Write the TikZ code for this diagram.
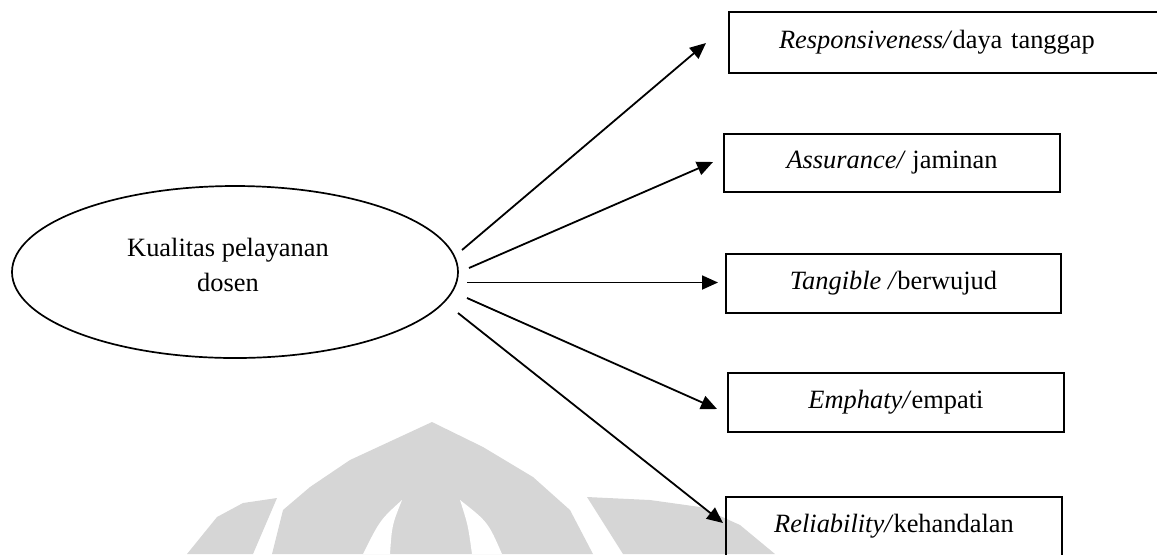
\documentclass[tikz,border=0pt]{standalone}
\usepackage{fontspec}
\setmainfont{Liberation Serif}
\usetikzlibrary{arrows.meta,shapes.geometric}

\begin{document}
\begin{tikzpicture}[x=0.5pt,y=-0.5pt,
  every node/.style={font=\fontsize{13.2pt}{17.5pt}\selectfont},
  dimbox/.style={draw, line width=1pt, inner sep=0pt, align=center},
  link/.style={line width=0.9pt, -{Triangle[length=8pt,width=7pt]}},
  emblem/.style={fill=black!16, draw=none}]
\useasboundingbox (0,0) rectangle (1157,554);
\clip (0,0) rectangle (1157,554);

% faint emblem in the background
\fill[emblem] (272,554) -- (283,510) -- (310,487) -- (350,460) -- (432,422)
  -- (483,447) -- (533,477) -- (570,510) -- (593,554) -- cycle;
\fill[white] (363,554) .. controls (380,520) .. (402,500) .. controls (392,525) .. (390,554) -- cycle;
\fill[white] (472,554) .. controls (468,525) .. (460,500) .. controls (488,522) .. (502,554) -- cycle;
\fill[emblem] (187,554) -- (217,517) -- (243,503) -- (277,498) -- (253,554) -- cycle;
\fill[emblem] (623,554) -- (587,497) -- (650,500) -- (700,507) -- (740,525) -- (775,554) -- cycle;

% central concept
\node[ellipse, draw, line width=0.85pt, minimum width=223pt, minimum height=86pt] (core) at (235,272) {};
\node[align=center] (coretext) at (228,265) {Kualitas pelayanan\\dosen};

% dimensions
\node[draw, line width=1pt, inner ysep=0pt, inner xsep=25pt, text width=170.5pt,
      align=left, minimum height=30.5pt] (d1) at (949.5,42.5)
      {\textit{Responsiveness/}daya tanggap};
\node[dimbox, minimum width=168pt, minimum height=29pt] (d2) at (892,163)
      {\textit{Assurance/} jaminan};
\node[dimbox, minimum width=167.5pt, minimum height=29.5pt] (d3) at (893.5,283.5)
      {\textit{Tangible /}berwujud};
\node[dimbox, minimum width=168pt, minimum height=29.5pt] (d4) at (896,402.5)
      {\textit{Emphaty/}empati};
\node[dimbox, minimum width=168pt, minimum height=29.5pt] (d5) at (894,526.5)
      {\textit{Reliability/}kehandalan};

% arrow end points
\coordinate (s1) at (462,250); \coordinate (e1) at (706,43);
\coordinate (s2) at (469,268); \coordinate (e2) at (713,162);
\coordinate (s3) at (467,282.5); \coordinate (e3) at (718,282.5);
\coordinate (s4) at (467,298); \coordinate (e4) at (717,409);
\coordinate (s5) at (458,313); \coordinate (e5) at (723,523);

\draw[link] (s1) -- (e1);
\draw[link] (s2) -- (e2);
\draw[link] (s3) -- (e3);
\draw[link] (s4) -- (e4);
\draw[link] (s5) -- (e5);
\end{tikzpicture}
\end{document}
